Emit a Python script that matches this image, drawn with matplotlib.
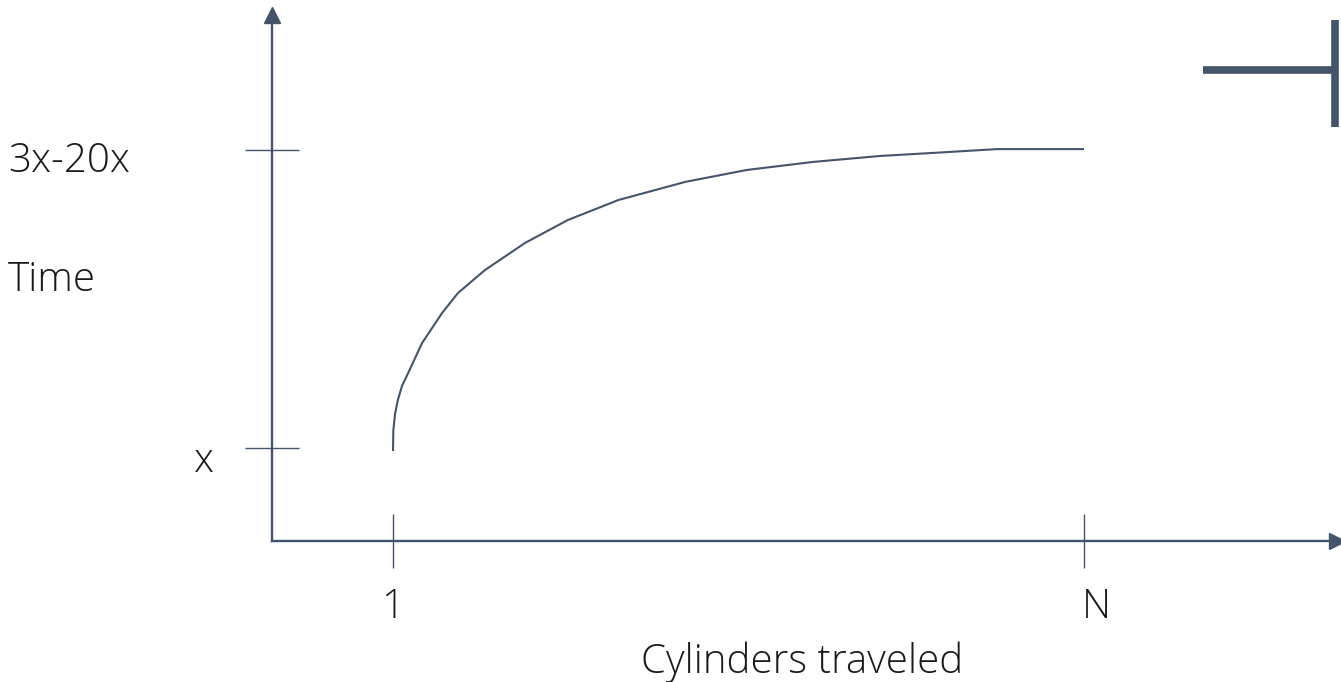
import matplotlib
matplotlib.use("Agg")
import matplotlib.pyplot as plt
from matplotlib.lines import Line2D

# curve: u = 0 at "1", 1 at "N"; v = 0 at "x", 1 at "3x-20x"
cyl = [0.0, 0.0005, 0.003, 0.007, 0.013, 0.022, 0.042, 0.071, 0.094, 0.133, 0.191, 0.253,
       0.326, 0.423, 0.512, 0.608, 0.705, 0.802, 0.874, 1.0]
time = [-0.01, 0.06, 0.115, 0.161, 0.208, 0.252, 0.352, 0.453, 0.520, 0.597, 0.688, 0.765,
        0.832, 0.893, 0.933, 0.960, 0.980, 0.993, 1.003, 1.003]
x_ticks = [0, 1]
x_labels = ['1', 'N']
y_ticks = [0, 1]
y_labels = ['x', '3x-20x']

col = '#44546A'
W, H = 1341, 682
plt.rcParams['font.family'] = ['Open Sans', 'DejaVu Sans']

fig = plt.figure(figsize=(W / 100, H / 100), dpi=100)

def fx(px):
    return px / W

def fy(py):
    return 1 - py / H

# axes box in pixels
left, right, top, bottom = 272, 1337, 15, 541
ax = fig.add_axes([fx(left), fy(bottom), (right - left) / W, (bottom - top) / H])
ax.set_facecolor('none')

# scale: u 0..1 -> 393..1084 px, v 0..1 -> 448..150 px
ax.set_xlim(-(393 - left) / 691, (right - 393) / 691)
ax.set_ylim(-(bottom - 448) / 298, (448 - top) / 298)

for s in ['top', 'right']:
    ax.spines[s].set_visible(False)
for s in ['left', 'bottom']:
    ax.spines[s].set_color(col)
    ax.spines[s].set_linewidth(1.7)

ax.plot(cyl, time, color=col, lw=1.5, solid_capstyle='butt')

# arrow heads
ax.plot([0], [1], marker='^', ms=11, color=col, transform=ax.transAxes, clip_on=False)
ax.plot([1], [0], marker='>', ms=11, color=col, transform=ax.transAxes, clip_on=False)

ax.set_xticks(x_ticks)
ax.set_yticks(y_ticks)
ax.set_xticklabels([])
ax.set_yticklabels([])
ax.tick_params(direction='inout', length=39, width=1.0, color=col)

fs = 29
tc = '#1a1a1a'
fw = 'light'
fig.text(fx(393), fy(607), x_labels[0], ha='center', va='center', fontsize=fs, color=tc, fontweight=fw)
fig.text(fx(1096), fy(607), x_labels[1], ha='center', va='center', fontsize=fs, color=tc, fontweight=fw)
fig.text(fx(204), fy(462), y_labels[0], ha='center', va='center', fontsize=fs, color=tc, fontweight=fw)
fig.text(fx(8), fy(162), y_labels[1], ha='left', va='center', fontsize=fs, color=tc, fontweight=fw)
fig.text(fx(8), fy(280), 'Time', ha='left', va='center', fontsize=fs, color=tc, fontweight=fw)
fig.text(fx(802), fy(662), 'Cylinders traveled', ha='center', va='center', fontsize=fs, color=tc, fontweight=fw)

# stray shape in the top-right corner
fig.add_artist(Line2D([fx(1203), fx(1335)], [fy(70), fy(70)], color=col, lw=5.5, solid_capstyle='butt'))
fig.add_artist(Line2D([fx(1335), fx(1335)], [fy(20), fy(127)], color=col, lw=5.5, solid_capstyle='butt'))

fig.savefig('out.png', dpi=100)
